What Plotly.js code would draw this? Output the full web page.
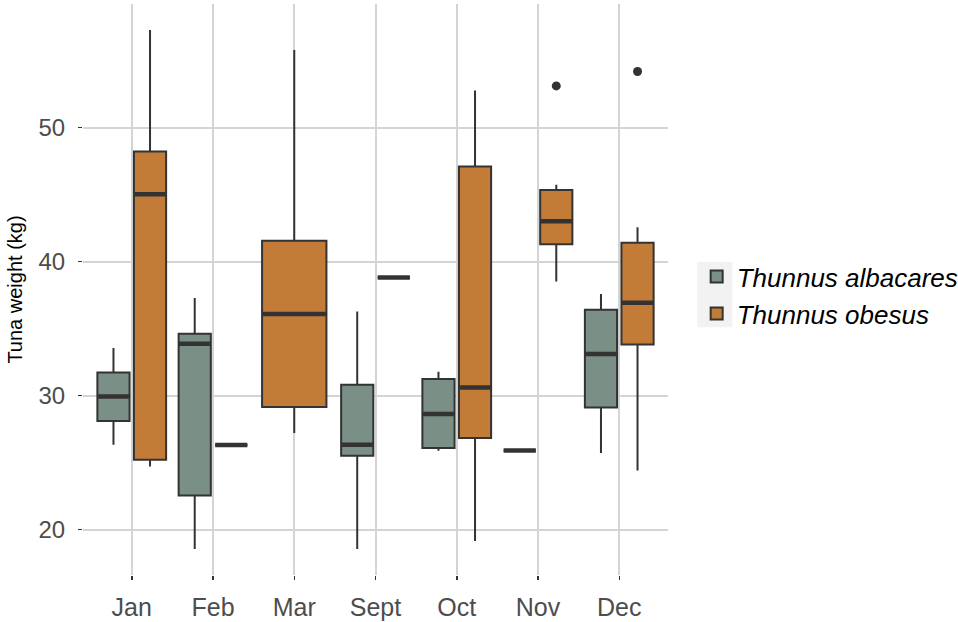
<!DOCTYPE html>
<html>
<head>
<meta charset="utf-8">
<script src="https://cdn.plot.ly/plotly-3.0.1.min.js"></script>
<style>
  body { margin: 0; background: #fff; }
  #plot1 { width: 958px; height: 622px; }
</style>
</head>
<body>
<div id="plot1"></div>
<script>
// months on the x axis, in display order
let months = ["Jan", "Feb", "Mar", "Sept", "Oct", "Nov", "Dec"];

// Thunnus albacares (no fish in Mar)
let albMonths = ["Jan", "Feb", "Sept", "Oct", "Nov", "Dec"];
let albLow  = [26.34, 18.56, 18.56, 25.89, 25.91, 25.72];
let albQ1   = [28.10, 22.56, 25.52, 26.09, 25.91, 29.12];
let albMed  = [29.94, 33.87, 26.34, 28.63, 25.91, 33.10];
let albQ3   = [31.73, 34.62, 30.81, 31.24, 25.91, 36.41];
let albHigh = [33.55, 37.28, 36.28, 31.78, 25.91, 37.58];

// Thunnus obesus, months shared with albacares
let obeMonths = ["Jan", "Feb", "Sept", "Oct", "Nov", "Dec"];
let obeLow  = [24.72, 26.32, 38.81, 19.16, 38.52, 24.42];
let obeQ1   = [25.22, 26.32, 38.81, 26.84, 41.30, 33.82];
let obeMed  = [45.03, 26.32, 38.81, 30.61, 43.02, 36.93];
let obeQ3   = [48.21, 26.32, 38.81, 47.09, 45.35, 41.40];
let obeHigh = [57.28, 26.32, 38.81, 52.76, 45.73, 42.57];

// obesus outliers
let outMonths = ["Nov", "Dec"];
let outValues = [53.11, 54.18];

// Thunnus obesus in Mar (only species that month, so full width box)
let marMonths = ["Mar"];
let marLow  = [27.21];
let marQ1   = [29.15];
let marMed  = [36.10];
let marQ3   = [41.55];
let marHigh = [55.79];

let albColor = "#7a8f85";
let obeColor = "#c27c38";
let edge = "#333333";

// one box trace from the five stats
function makeBox(name, x, lo, q1, med, q3, hi, fill, align, group, legend) {
    return {
        type: "box",
        name: name,
        x: x,
        q1: q1, median: med, q3: q3,
        lowerfence: lo, upperfence: hi,
        boxpoints: false,
        whiskerwidth: 0,
        fillcolor: fill,
        line: { color: edge, width: 2 },
        alignmentgroup: align,
        offsetgroup: group,
        legendgroup: name,
        showlegend: legend,
        hoverinfo: "skip"
    };
}

// thicker median bar drawn on top, like ggplot
function makeMedian(x, med, align, group) {
    return {
        type: "box",
        x: x,
        q1: med, median: med, q3: med,
        lowerfence: med, upperfence: med,
        boxpoints: false,
        whiskerwidth: 0,
        fillcolor: "rgba(0,0,0,0)",
        line: { color: edge, width: 4.5 },
        alignmentgroup: align,
        offsetgroup: group,
        showlegend: false,
        hoverinfo: "skip"
    };
}

var data = [
    makeBox("Thunnus albacares", albMonths, albLow, albQ1, albMed, albQ3, albHigh, albColor, "pair", "alb", true),
    makeBox("Thunnus obesus", obeMonths, obeLow, obeQ1, obeMed, obeQ3, obeHigh, obeColor, "pair", "obe", true),
    makeBox("Thunnus obesus", marMonths, marLow, marQ1, marMed, marQ3, marHigh, obeColor, "solo", "solo", false),
    makeMedian(albMonths, albMed, "pair", "alb"),
    makeMedian(obeMonths, obeMed, "pair", "obe"),
    makeMedian(marMonths, marMed, "solo", "solo"),
    // empty partner so the outlier dots dodge to the obesus slot
    {
        type: "scatter", mode: "markers",
        x: albMonths.slice(0, 1), y: [null],
        alignmentgroup: "pair", offsetgroup: "alb",
        showlegend: false, hoverinfo: "skip"
    },
    {
        type: "scatter", mode: "markers",
        x: outMonths, y: outValues,
        marker: { color: edge, size: 9 },
        alignmentgroup: "pair", offsetgroup: "obe",
        showlegend: false, hoverinfo: "skip"
    }
];

var layout = {
    width: 958,
    height: 622,
    margin: { l: 83, r: 290, t: 4, b: 47, autoexpand: false },
    paper_bgcolor: "#ffffff",
    plot_bgcolor: "#ffffff",
    font: { family: "Liberation Sans, Arial, sans-serif", color: "#4d4d4d" },
    boxmode: "group",
    boxgap: 0.1,
    boxgroupgap: 0.12,
    scattermode: "group",
    scattergap: 0.1,
    showlegend: true,
    legend: {
        x: 1.049, xanchor: "left",
        y: 0.49, yanchor: "middle",
        font: { size: 26, color: "#000000", style: "italic" },
        bgcolor: "rgba(0,0,0,0)",
        tracegroupgap: 0
    },
    // grey key backgrounds as in the ggplot legend
    shapes: [{
        type: "rect", xref: "paper", yref: "paper", layer: "below",
        x0: 1.05, x1: 1.11, y0: 0.434, y1: 0.548,
        fillcolor: "#f2f2f2", line: { width: 0 }
    }],
    xaxis: {
        type: "category",
        categoryorder: "array",
        categoryarray: months,
        range: [-0.6, 6.6],
        showgrid: true,
        gridcolor: "#d4d4d4",
        gridwidth: 2,
        zeroline: false,
        showline: false,
        ticks: "outside",
        ticklen: 4,
        tickwidth: 1.5,
        tickcolor: "#333333",
        tickfont: { size: 25, color: "#4d4d4d" },
        ticklabelstandoff: 6,
        fixedrange: true
    },
    yaxis: {
        range: [16.62, 59.22],
        tickvals: [20, 30, 40, 50],
        showgrid: true,
        gridcolor: "#d4d4d4",
        gridwidth: 2,
        zeroline: false,
        showline: false,
        ticks: "outside",
        ticklen: 4,
        tickwidth: 1.5,
        tickcolor: "#333333",
        tickfont: { size: 24, color: "#4d4d4d" },
        ticklabelstandoff: 8,
        title: { text: "Tuna weight (kg)", font: { size: 20, color: "#000000" }, standoff: 10 },
        fixedrange: true
    }
};

Plotly.newPlot("plot1", data, layout, { staticPlot: true });
</script>
</body>
</html>
